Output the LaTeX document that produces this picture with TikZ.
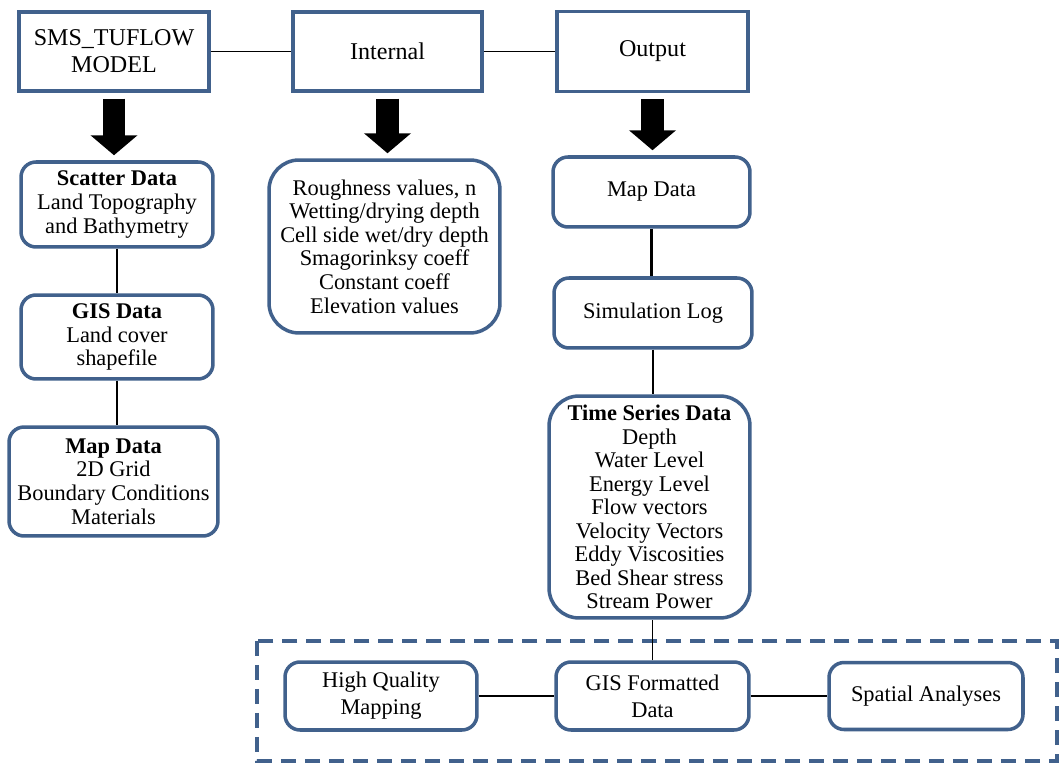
\documentclass[tikz,border=0pt]{standalone}
\usepackage{fontspec}
\setmainfont{Liberation Serif}
\usetikzlibrary{arrows.meta}
\definecolor{boxblue}{RGB}{65,97,140}

\begin{document}
\begin{tikzpicture}[x=0.02cm,y=-0.02cm,
	headbox/.style={draw=boxblue,line width=2pt,fill=white,inner sep=0pt,align=center,font=\fontsize{13.7}{15.5}\selectfont},
	card/.style={draw=boxblue,line width=2pt,fill=white,rounded corners=0.3cm,inner sep=0pt,align=center,font=\fontsize{12.75}{13.4}\selectfont},
	bigcard/.style={card,rounded corners=0.6cm},
	widecard/.style={card,font=\fontsize{12.75}{15.4}\selectfont},
	link/.style={draw,line width=0.6pt},
	thick link/.style={draw,line width=1.2pt},
	blockarrow/.style={line width=0.46cm,-{Triangle[width=0.92cm,length=0.4cm]},shorten <=0.12cm,shorten >=0.1cm}]
	\useasboundingbox (0,0) rectangle (1061,763);
	%\draw[gray] (0,0) grid[step=100] (1061,763);
	% top row
	\node[headbox,minimum width=3.8cm,minimum height=1.58cm] (sms) at (114,51.5) {SMS\_TUFLOW\\MODEL};
	\node[headbox,minimum width=3.78cm,minimum height=1.58cm] (internal) at (387.5,51.5) {Internal};
	\node[headbox,minimum width=3.82cm,minimum height=1.6cm] (output) at (652.5,51.5) {Output};
	% left column
	\node[card,minimum width=3.84cm,minimum height=1.7cm] (scatter) at (117,204.5) {\textbf{Scatter Data}\\Land Topography\\and Bathymetry};
	\node[card,minimum width=3.84cm,minimum height=1.68cm] (gis) at (117,337) {\textbf{GIS Data}\\Land cover\\shapefile};
	\node[card,minimum width=4.18cm,minimum height=2.18cm] (mapin) at (113.5,481.5) {\textbf{Map Data}\\2D Grid\\Boundary Conditions\\Materials};
	% middle column
	\node[bigcard,minimum width=4.62cm,minimum height=3.46cm] (params) at (384.5,246.5) {Roughness values, n\\Wetting/drying depth\\Cell side wet/dry depth\\Smagorinksy coeff\\Constant coeff\\Elevation values};
	% right column
	\node[card,minimum width=3.94cm,minimum height=1.4cm] (mapout) at (651.5,192) {Map Data};
	\node[card,minimum width=3.96cm,minimum height=1.4cm] (simlog) at (653,313) {Simulation Log};
	\node[bigcard,minimum width=4.02cm,minimum height=4.44cm] (series) at (649.5,507) {\textbf{Time Series Data}\\Depth\\Water Level\\Energy Level\\Flow vectors\\Velocity Vectors\\Eddy Viscosities\\Bed Shear stress\\Stream Power};
	% GIS group
	\draw[boxblue,line width=0.08cm,dash pattern=on 0.3cm off 0.18cm] (257,641) rectangle (1057,761);
	\node[widecard,minimum width=3.84cm,minimum height=1.36cm] (hq) at (381,696) {High Quality\\Mapping};
	\node[widecard,minimum width=3.86cm,minimum height=1.36cm] (gisfmt) at (652.5,696) {GIS Formatted\\Data};
	\node[widecard,minimum width=3.88cm,minimum height=1.34cm] (spatial) at (926,696) {Spatial Analyses};
	% connectors
	\draw[link] (sms) -- (internal);
	\draw[link] (internal) -- (output);
	\draw[link] (scatter) -- (gis);
	\draw[link] (gis.south) -- (gis.south |- mapin.north);
	\draw[thick link] (mapout.south) -- (mapout.south |- simlog.north);
	\draw[thick link] (simlog.south) -- (simlog.south |- series.north);
	\draw[link] (gisfmt.north) -- (gisfmt.north |- series.south);
	\draw[link] (hq) -- (gisfmt);
	\draw[link] (gisfmt) -- (spatial);
	\draw[blockarrow] (sms.south) -- (sms.south |- scatter.north);
	\draw[blockarrow] (internal.south) -- (internal.south |- params.north);
	\draw[blockarrow] (output.south) -- (output.south |- mapout.north);
\end{tikzpicture}
\end{document}
